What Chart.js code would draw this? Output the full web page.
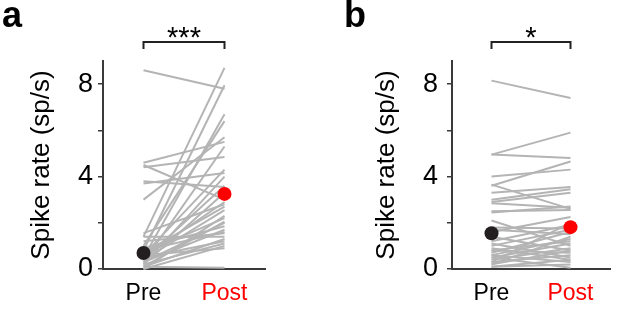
<!DOCTYPE html>
<html>
<head>
<meta charset="utf-8">
<script src="https://cdn.jsdelivr.net/npm/chart.js@4"></script>
<style>
  html, body { margin: 0; padding: 0; background: #fff; }
  #wrap { position: relative; width: 617px; height: 311px; }
  .panel { position: absolute; top: 0; height: 311px; }
</style>
</head>
<body>
<div id="wrap">
  <div class="panel" style="left:0;width:300px"><canvas id="chartA"></canvas></div>
  <div class="panel" style="left:300px;width:317px"><canvas id="chartB"></canvas></div>
</div>
<script>
// categories and axis ticks
const categories = ['Pre', 'Post'];
const yTicks = [0, 2, 4, 6, 8];
const yLabelled = [0, 4, 8];

// panel a: each neuron, pre vs post (sp/s)
const preA  = [8.6, 1.4, 0.8, 0.5, 1.0, 3.0, 4.6, 0.3, 4.4, 0.6, 3.7, 3.8, 4.5, 0.2, 1.55, 0.4, 0.7, 0.1, 0.9, 0.3, 1.2, 1.4, 0.5, 0.2, 0.6, 0.1, 0.0, 0.3, 0.8, 0.2, 0.5, 0.1, 0.4, 0.0, 0.7];
const postA = [7.8, 8.7, 7.95, 6.7, 6.4, 5.7, 5.5, 5.3, 4.85, 4.3, 4.15, 3.55, 3.0, 3.3, 2.8, 2.55, 2.7, 2.05, 1.85, 1.7, 1.55, 1.4, 1.2, 1.1, 0.9, 0.05, 2.3, 2.0, 1.6, 4.0, 2.9, 1.3, 3.6, 1.0, 2.2];
const meanA = [0.69, 3.25];

// panel b
const preB  = [8.15, 4.95, 4.95, 4.0, 3.6, 3.65, 3.3, 3.0, 2.9, 2.85, 2.5, 2.1, 2.45, 1.7, 1.6, 1.4, 1.2, 1.0, 0.9, 0.8, 0.7, 0.6, 0.5, 0.4, 0.3, 0.2, 0.1, 0.5, 0.3, 0.8, 1.1, 0.6, 0.2, 1.8, 0.1];
const postB = [7.4, 5.9, 4.8, 4.3, 4.65, 2.6, 3.55, 3.45, 3.3, 2.65, 2.55, 1.0, 2.7, 1.5, 2.25, 0.8, 1.9, 1.7, 0.4, 1.2, 1.6, 0.3, 1.1, 0.9, 0.6, 1.4, 0.2, 0.05, 2.0, 0.7, 0.5, 1.3, 0.8, 1.75, 0.4];
const meanB = [1.55, 1.81];

const FONT = '"Liberation Sans", Arial, sans-serif';
const AXIS = '#3a3a3a';

// bracket, stars and panel letter
const decor = {
  id: 'decor',
  afterDraw(chart, args, opts) {
    const c = chart.ctx;
    const xs = chart.scales.x;
    const x0 = xs.getPixelForValue(0), x1 = xs.getPixelForValue(1);
    c.save();
    c.strokeStyle = '#222';
    c.lineWidth = 2;
    c.beginPath();
    c.moveTo(x0, 49); c.lineTo(x0, 42); c.lineTo(x1, 42); c.lineTo(x1, 49);
    c.stroke();
    c.fillStyle = '#000';
    c.textAlign = 'center';
    c.textBaseline = 'alphabetic';
    c.font = '29px ' + FONT;
    c.fillText(opts.stars, (x0 + x1) / 2, 47);
    c.textAlign = 'left';
    c.font = 'bold 36px ' + FONT;
    c.fillText(opts.letter, opts.letterX, 27);
    c.restore();
  }
};

function makePanel(id, pre, post, means, stars, letter, axisLeft, padRight, tickPad, titlePad) {
  const datasets = pre.map((v, i) => ({
    data: [{ x: 0, y: v }, { x: 1, y: post[i] }],
    showLine: true,
    borderColor: '#b4b4b4',
    borderWidth: 2,
    pointRadius: 0,
    clip: false
  }));
  // mean markers, drawn on top of the lines
  datasets.push({
    data: means.map((v, i) => ({ x: i, y: v })),
    showLine: false,
    pointRadius: 7,
    pointBorderWidth: 0,
    pointBackgroundColor: ['#231f20', '#ff0000'],
    clip: false,
    order: -1
  });

  return new Chart(document.getElementById(id), {
    type: 'scatter',
    data: { datasets },
    options: {
      responsive: true,
      maintainAspectRatio: false,
      animation: false,
      layout: { padding: { top: 61, right: padRight, left: 0, bottom: 0 } },
      plugins: {
        legend: { display: false },
        tooltip: { enabled: false },
        decor: { stars: stars, letter: letter, letterX: letter === 'a' ? 2 : 44 }
      },
      scales: {
        x: {
          type: 'linear',
          min: -0.5,
          max: 1.5,
          afterBuildTicks: s => { s.ticks = categories.map((c, i) => ({ value: i })); },
          afterFit: s => { s.height = 42; },
          grid: { drawOnChartArea: false, drawTicks: false },
          border: { color: AXIS, width: 2 },
          ticks: {
            callback: v => categories[v],
            color: ctx => (ctx.tick && ctx.tick.value === 1) ? '#ff0000' : '#000',
            font: { family: FONT, size: 23 },
            padding: 11,
            maxRotation: 0
          }
        },
        y: {
          min: 0,
          max: 9,
          afterBuildTicks: s => { s.ticks = yTicks.map(v => ({ value: v })); },
          afterFit: s => { s.width = axisLeft; },
          grid: { drawOnChartArea: false, drawTicks: true, tickLength: 5, color: AXIS, lineWidth: 1.5 },
          border: { color: AXIS, width: 2 },
          ticks: {
            callback: v => yLabelled.includes(v) ? v : '',
            color: '#000',
            font: { family: FONT, size: 27 },
            padding: tickPad
          },
          title: {
            display: true,
            text: 'Spike rate (sp/s)',
            color: '#000',
            font: { family: FONT, size: 26, lineHeight: 1 },
            padding: { top: titlePad, bottom: 0 }
          }
        }
      }
    },
    plugins: [decor]
  });
}

makePanel('chartA', preA, postA, meanA, '***', 'a', 103, 35, 5, 29);
makePanel('chartB', preB, postB, meanB, '*', 'b', 152, 2, 9, 74);
</script>
</body>
</html>
